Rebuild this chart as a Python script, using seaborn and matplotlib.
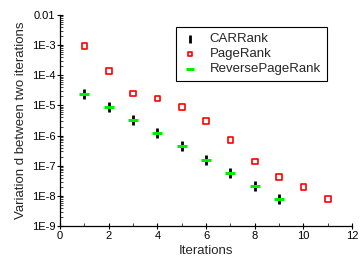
import numpy as np
import pandas as pd
import seaborn as sns
import matplotlib.pyplot as plt
from matplotlib.ticker import FixedLocator, LogLocator, MultipleLocator, NullFormatter

sns.set_style("ticks")
plt.rcParams["font.family"] = ["Liberation Sans", "DejaVu Sans"]

# values
page_iter = [1, 2, 3, 4, 5, 6, 7, 8, 9, 10, 11]
page_rank = [9.5e-4, 1.4e-4, 2.5e-5, 1.7e-5, 8.7e-6, 3.0e-6,
             7.0e-7, 1.4e-7, 4.3e-8, 2.0e-8, 8.0e-9]
car_iter = [1, 2, 3, 4, 5, 6, 7, 8, 9]
car_rank = [2.4e-5, 8.7e-6, 3.2e-6, 1.2e-6, 4.5e-7, 1.6e-7,
            5.9e-8, 2.2e-8, 8.0e-9]
reverse_rank = [2.4e-5, 8.7e-6, 3.2e-6, 1.2e-6, 4.5e-7, 1.6e-7,
                5.9e-8, 2.2e-8, 8.0e-9]
ytick_vals = [1e-9, 1e-8, 1e-7, 1e-6, 1e-5, 1e-4, 1e-3, 1e-2]
ytick_labels = ["1E-9", "1E-8", "1E-7", "1E-6", "1E-5", "1E-4", "1E-3", "0.01"]

fig = plt.figure(figsize=(3.6, 2.66), dpi=100)
ax = fig.add_axes([0.167, 0.150, 0.811, 0.794])

sns.scatterplot(x=car_iter, y=car_rank, marker="|", color="black",
                s=45, linewidth=2, label="CARRank", ax=ax, zorder=3)
sns.scatterplot(x=page_iter, y=page_rank, marker="s", facecolor="none",
                edgecolor="red", s=16, linewidth=1.2, label="PageRank", ax=ax)
sns.scatterplot(x=car_iter, y=reverse_rank, marker="_", color="#00ee00",
                s=55, linewidth=2.2, label="ReversePageRank", ax=ax, zorder=4)

ax.set_yscale("log")
ax.set_xlim(0, 12)
ax.set_ylim(1e-9, 1e-2)
ax.xaxis.set_major_locator(MultipleLocator(2))
ax.xaxis.set_minor_locator(MultipleLocator(1))
ax.yaxis.set_major_locator(FixedLocator(ytick_vals))
ax.set_yticklabels(ytick_labels)
ax.yaxis.set_minor_locator(LogLocator(base=10, subs=np.arange(2, 10)))
ax.yaxis.set_minor_formatter(NullFormatter())

ax.tick_params(axis="both", which="major", direction="inout", length=4,
               width=0.8, labelsize=8, colors="black", pad=1.5)
ax.tick_params(axis="both", which="minor", direction="in", length=2,
               width=0.6)
for side in ["top", "right"]:
    ax.spines[side].set_visible(False)
for side in ["left", "bottom"]:
    ax.spines[side].set_color("black")
    ax.spines[side].set_linewidth(0.9)

ax.set_xlabel("Iterations", fontsize=9.5, labelpad=3)
ax.set_ylabel("Variation d between two iterations", fontsize=9.5, labelpad=3)

leg = ax.legend(loc="upper left", bbox_to_anchor=(0.397, 0.943), fontsize=9.5,
                frameon=True, fancybox=False, framealpha=1, edgecolor="black",
                handlelength=1.2, handletextpad=0.9, borderpad=0.45,
                labelspacing=0.22, markerscale=0.8, borderaxespad=0)
leg.get_frame().set_linewidth(0.8)

fig.savefig("out.png", dpi=100)
